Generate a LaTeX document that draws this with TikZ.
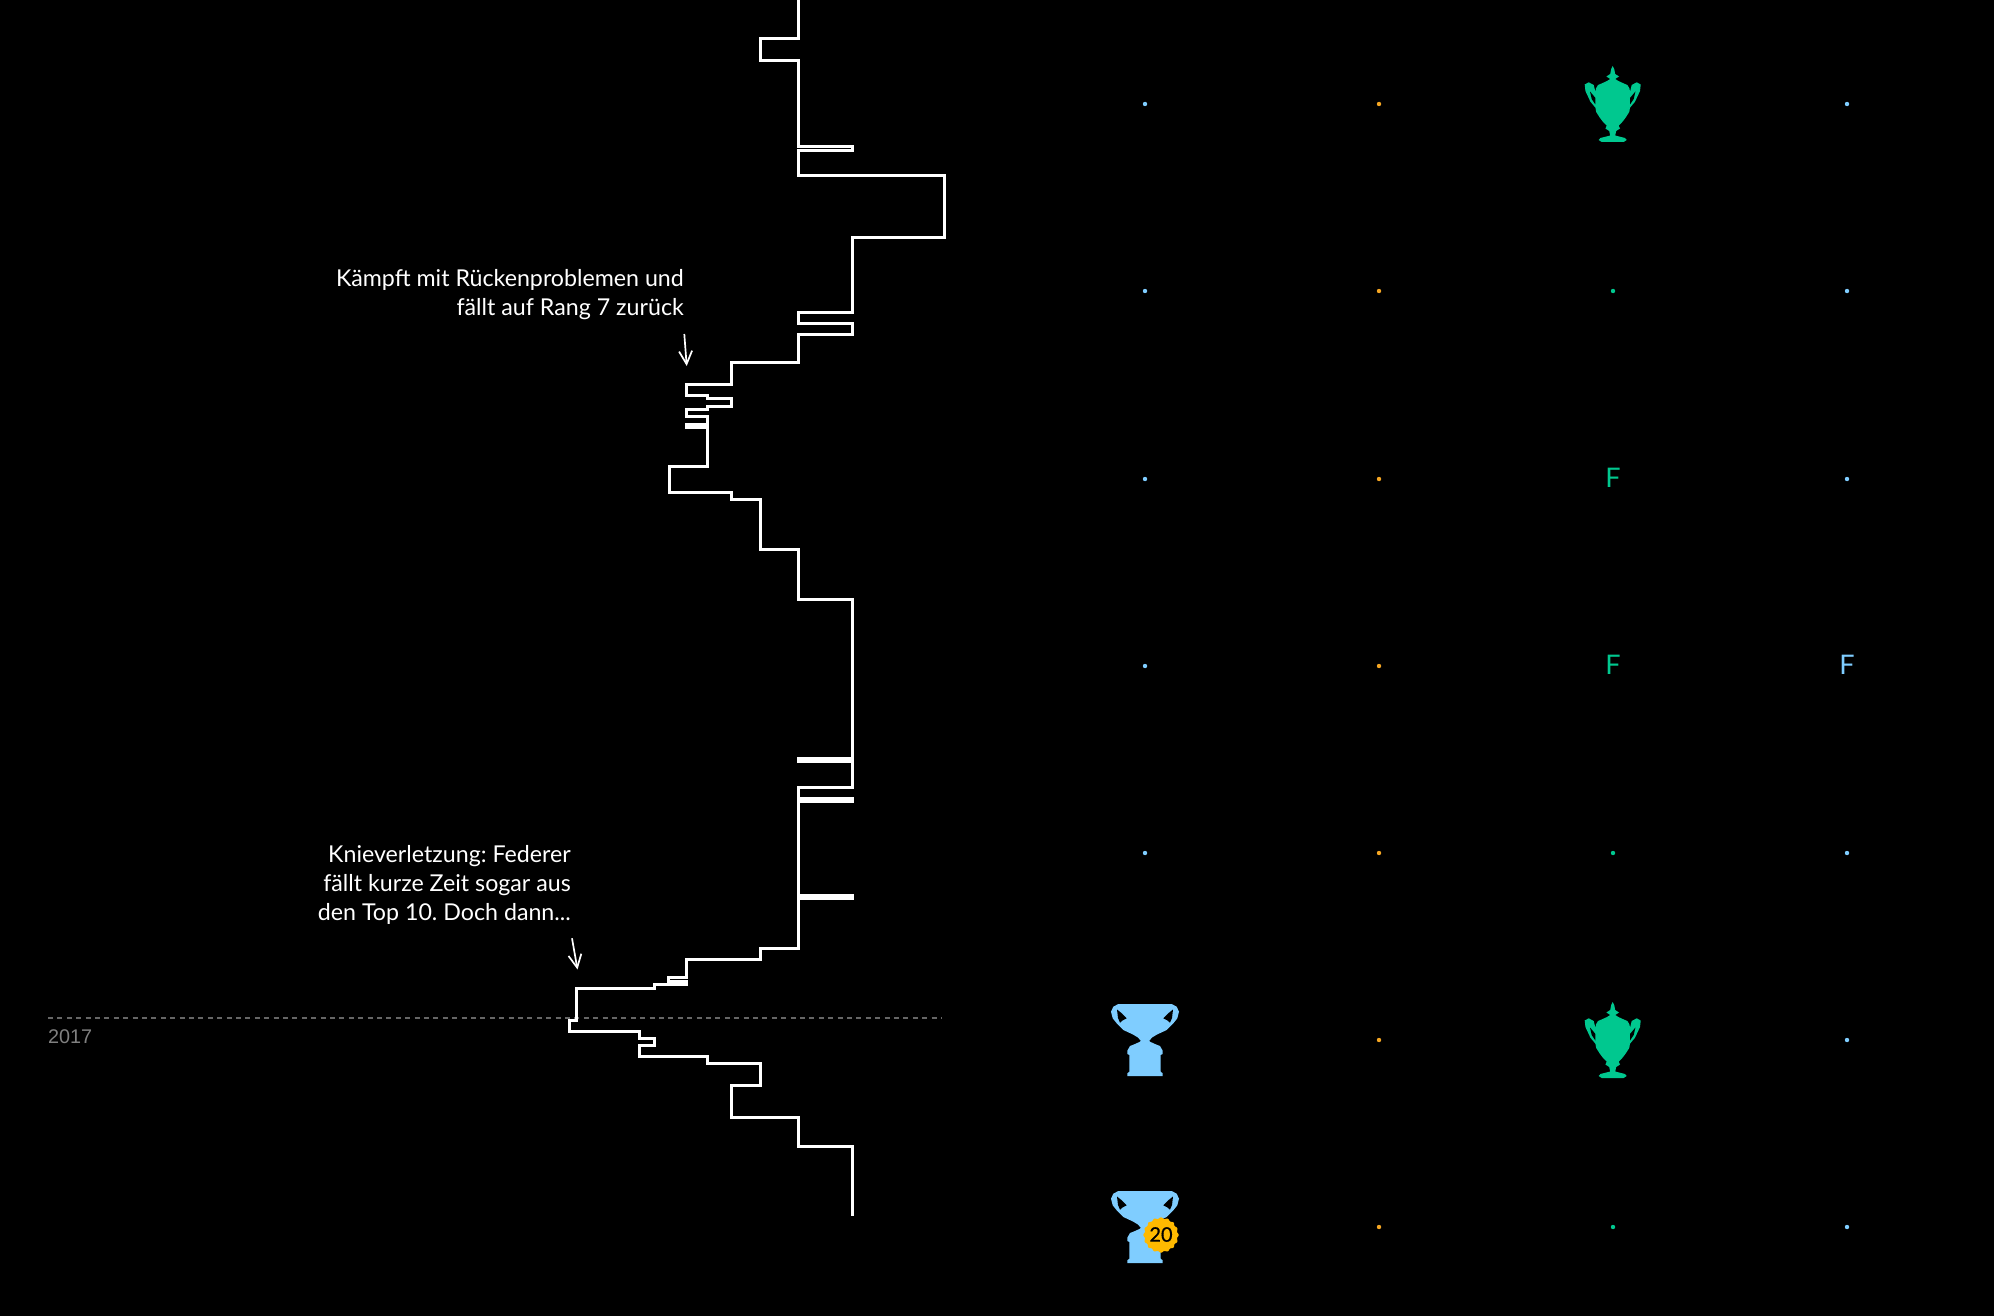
\documentclass[tikz,border=0pt]{standalone}
\usepackage{fontspec}
\setmainfont{Lato}
\newfontfamily\yearfont{Liberation Sans}
\usetikzlibrary{arrows.meta}
\frenchspacing

\definecolor{aoblue}{HTML}{7FCDFF}
\definecolor{rgorange}{HTML}{F5A623}
\definecolor{wimbgreen}{HTML}{00C88F}
\definecolor{badgegold}{HTML}{FFB900}

\begin{document}
\begin{tikzpicture}[
  x=1pt, y=-1pt,
  rankline/.style={draw=white, line width=3pt, line join=miter, miter limit=4},
  yearline/.style={draw=white!40!black, line width=1.2pt, dash pattern=on 5pt off 4.4pt},
  note/.style={text=white, align=right, anchor=east, font=\fontsize{23.2}{29}\selectfont, inner sep=0pt},
  notearrow/.style={-{Straight Barb[length=13pt, width=13pt, line width=1.7pt]}, draw=white, line width=1.7pt},
  rdot/.style={circle, fill=#1, inner sep=0pt, minimum size=4.4pt},
  final/.style={text=#1, font=\fontsize{27}{27}\selectfont, inner sep=0pt},
  aocup/.pic={
    \fill[pic actions, line join=round]
      (-26.7,-36) -- (26.7,-36) -- (31.7,-33.3) -- (34,-28.3) -- (32.3,-21.7) -- (28.3,-16.7) -- (21.7,-10)
      -- (12,-5.5) -- (7,-2.5) -- (4.3,0.7) -- (5,1.7) -- (10,4) -- (15,6) -- (17.7,10.7) -- (17.7,14)
      -- (15.7,15) -- (15.7,31.7) -- (17.7,33.3) -- (17.7,36) -- (-17.7,36) -- (-17.7,33.3) -- (-15.7,31.7)
      -- (-15.7,15) -- (-17.7,14) -- (-17.7,10.7) -- (-15,6) -- (-10,4) -- (-5,1.7) -- (-4.3,0.7) -- (-7,-2.5)
      -- (-12,-5.5) -- (-21.7,-10) -- (-28.3,-16.7) -- (-32.3,-21.7) -- (-34,-28.3) -- (-31.7,-33.3) -- cycle;
    \fill[black] (-28,-30.5) -- (-23,-26.5) -- (-18.3,-21.7) -- (-22.5,-19.5) -- (-25,-17.3) -- (-27,-22) -- cycle;
    \fill[black] (28,-30.5) -- (23,-26.5) -- (18.3,-21.7) -- (22.5,-19.5) -- (25,-17.3) -- (27,-22) -- cycle;
  },
  wimbcup/.pic={
    \fill[pic actions, line join=round]
      (0,-38) -- (1.5,-35) -- (2.5,-30) -- (6.3,-27.5) -- (2.5,-25) -- (5.7,-23) -- (10.7,-20.7) -- (14.7,-19) -- (16.7,-15.7) -- (17.3,-12.3)
      -- (19,-19) -- (24,-21.7) -- (28,-19.5) -- (27.3,-13) -- (22.3,-2.3) -- (17.3,3.7) -- (16.5,8) -- (13,13.5) -- (10,17.5)
      -- (6,21.7) -- (7.3,24.5) -- (3.5,27) -- (2.5,31.5) -- (12.3,34) -- (14,36) -- (11,38) -- (-11,38) -- (-14,36) -- (-12.3,34)
      -- (-2.5,31.5) -- (-3.5,27) -- (-7.3,24.5) -- (-6,21.7) -- (-10,17.5) -- (-13,13.5) -- (-16.5,8) -- (-17.3,3.7) -- (-22.3,-2.3) -- (-27.3,-13)
      -- (-28,-19.5) -- (-24,-21.7) -- (-19,-19) -- (-17.3,-12.3) -- (-16.7,-15.7) -- (-14.7,-19) -- (-10.7,-20.7) -- (-5.7,-23)
      -- (-2.5,-25) -- (-6.3,-27.5) -- (-2.5,-30) -- (-1.5,-35) -- cycle;
    \fill[black] (22.7,-12.5) -- (17.3,-6) -- (17.3,0.5) -- (21,-5) -- cycle;
    \fill[black] (-22.7,-12.5) -- (-17.3,-6) -- (-17.3,0.5) -- (-21,-5) -- cycle;
  }
]
\path[fill=black, use as bounding box] (0,0) rectangle (1994,1316);

% Rank
\draw[yearline] (48,1018) -- (942,1018);
\draw[rankline] (798.7,0) -- (798.7,39) -- (760.7,39) -- (760.7,60.7) -- (798.7,60.7) -- (798.7,147)
  -- (852,147) -- (852,150.5) -- (798.7,150.5) -- (798.7,175.7) -- (944,175.7) -- (944,237)
  -- (852.3,237) -- (852.3,312.7) -- (798.7,312.7) -- (798.7,323.3) -- (852.3,323.3) -- (852.3,334)
  -- (798.7,334) -- (798.7,362.3) -- (731,362.3) -- (731,384) -- (686.7,384) -- (686.7,395.7)
  -- (707.7,395.7) -- (707.7,398.7) -- (731.7,398.7) -- (731.7,406) -- (707.7,406) -- (707.7,409)
  -- (686.7,409) -- (686.7,416.7) -- (707.7,416.7) -- (707.7,424) -- (686.7,424) -- (686.7,427.3)
  -- (707.7,427.3) -- (707.7,466.7) -- (669,466.7) -- (669,492) -- (731,492) -- (731,499.3)
  -- (760.7,499.3) -- (760.7,549.4) -- (798.7,549.4) -- (798.7,599) -- (852,599) -- (852,758)
  -- (798.7,758) -- (798.7,761.7) -- (852,761.7) -- (852,787.3) -- (798.7,787.3) -- (798.7,798.3)
  -- (852.7,798.3) -- (852.7,801) -- (798.7,801) -- (798.7,895) -- (852,895) -- (852,898)
  -- (798.7,898) -- (798.7,948.3) -- (760.7,948.3) -- (760.7,959.3) -- (686.7,959.3) -- (686.7,977.3)
  -- (668.7,977.3) -- (668.7,981) -- (686.7,981) -- (686.7,984) -- (654,984) -- (654,988)
  -- (576.7,988) -- (576.7,1020) -- (569.3,1020) -- (569.3,1031.3) -- (639.3,1031.3) -- (639.3,1038)
  -- (654,1038) -- (654,1045.7) -- (639.3,1045.7) -- (639.3,1056) -- (707.3,1056) -- (707.3,1063.3)
  -- (760.7,1063.3) -- (760.7,1085) -- (731.3,1085) -- (731.3,1117.5) -- (798.7,1117.5)
  -- (798.7,1146.3) -- (852,1146.3) -- (852,1216);

\node[text=white!50!black, font=\yearfont\fontsize{19.8}{20}\selectfont, anchor=west, inner sep=0pt] (year) at (48,1037) {2017};

% Notes
\node[note] (back) at (684,294.5) {Kämpft mit Rückenproblemen und\\fällt auf Rang 7 zurück};
\node[note] (knee) at (571,884.5) {Knieverletzung: Federer\\fällt kurze Zeit sogar aus\\den Top 10. Doch dann...};
\coordinate (backa) at (684.3,334);
\coordinate (backb) at (686.7,366);
\coordinate (kneea) at (572,938.3);
\coordinate (kneeb) at (577.5,969.5);
\draw[notearrow] (backa) -- (backb);
\draw[notearrow] (kneea) -- (kneeb);

% Row 1
\node[rdot=aoblue] (a1) at (1145,104) {};
\node[rdot=rgorange] (r1) at (1379,104) {};
\pic[fill=wimbgreen] (w1) at (1612.7,104) {wimbcup};
\node[rdot=aoblue] (u1) at (1847,104) {};
% Row 2
\node[rdot=aoblue] (a2) at (1145,291) {};
\node[rdot=rgorange] (r2) at (1379,291) {};
\node[rdot=wimbgreen] (w2) at (1613,291) {};
\node[rdot=aoblue] (u2) at (1847,291) {};
% Row 3
\node[rdot=aoblue] (a3) at (1145,479) {};
\node[rdot=rgorange] (r3) at (1379,479) {};
\node[final=wimbgreen] (w3) at (1613,478) {F};
\node[rdot=aoblue] (u3) at (1847,479) {};
% Row 4
\node[rdot=aoblue] (a4) at (1145,666) {};
\node[rdot=rgorange] (r4) at (1379,666) {};
\node[final=wimbgreen] (w4) at (1613,665) {F};
\node[final=aoblue] (u4) at (1847,665) {F};
% Row 5
\node[rdot=aoblue] (a5) at (1145,853) {};
\node[rdot=rgorange] (r5) at (1379,853) {};
\node[rdot=wimbgreen] (w5) at (1613,853) {};
\node[rdot=aoblue] (u5) at (1847,853) {};
% Row 6
\pic[fill=aoblue] (a6) at (1145,1040) {aocup};
\node[rdot=rgorange] (r6) at (1379,1040) {};
\pic[fill=wimbgreen] (w6) at (1612.7,1040) {wimbcup};
\node[rdot=aoblue] (u6) at (1847,1040) {};
% Row 7
\pic[fill=aoblue] (a7) at (1145,1227) {aocup};
\fill[badgegold] plot[domain=0:360, samples=129, smooth] ({1161+(17+0.7*cos(16*\x))*cos(\x)}, {1235+(17+0.7*cos(16*\x))*sin(\x)}) -- cycle;
\node[text=black, font=\fontsize{20}{20}\selectfont\addfontfeature{FakeBold=0.6}, inner sep=0pt] (titles) at (1161,1234.5) {20};
\node[rdot=rgorange] (r7) at (1379,1227) {};
\node[rdot=wimbgreen] (w7) at (1613,1227) {};
\node[rdot=aoblue] (u7) at (1847,1227) {};

\end{tikzpicture}
\end{document}
